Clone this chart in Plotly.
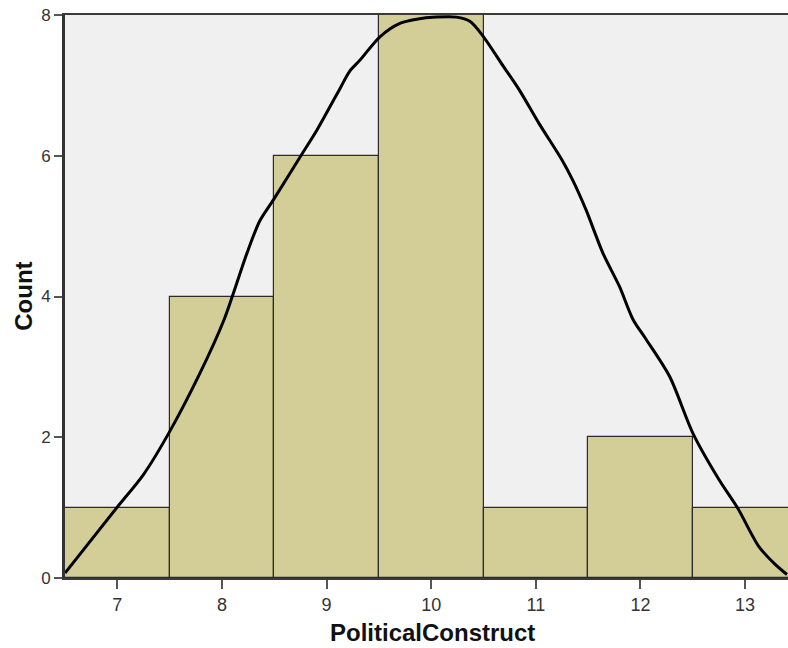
import plotly.graph_objects as go

# Histogram data
bin_centers = [7, 8, 9, 10, 11, 12, 13]
counts = [1, 4, 6, 8, 1, 2, 1]

# Overlay curve
curve_x = [6.5, 6.99, 7.25, 7.5, 7.79, 8.02, 8.11, 8.24, 8.36, 8.49, 8.75, 8.91, 9.13, 9.22,
           9.32, 9.51, 9.7, 9.86, 10.05, 10.24, 10.37, 10.5, 10.69, 10.84, 11.03, 11.25,
           11.35, 11.48, 11.64, 11.8, 11.93, 12.05, 12.28, 12.5, 12.75, 12.93, 13.13, 13.29, 13.4]
curve_y = [0.07, 0.99, 1.47, 2.08, 2.91, 3.67, 4.05, 4.62, 5.07, 5.37, 5.99, 6.37, 6.96, 7.2,
           7.36, 7.69, 7.88, 7.94, 7.97, 7.97, 7.91, 7.69, 7.27, 6.94, 6.46, 5.94,
           5.66, 5.23, 4.62, 4.14, 3.67, 3.4, 2.86, 2.06, 1.4, 0.99, 0.45, 0.19, 0.05]

x_ticks = [7, 8, 9, 10, 11, 12, 13]
y_ticks = [0, 2, 4, 6, 8]
x_title = "PoliticalConstruct"
y_title = "Count"

fig = go.Figure()
fig.add_trace(go.Bar(
    x=bin_centers, y=counts, width=1,
    marker=dict(color="#D3CE97", line=dict(color="#2b2b2b", width=1.2)),
    hoverinfo="x+y", showlegend=False,
))
fig.add_trace(go.Scatter(
    x=curve_x, y=curve_y, mode="lines",
    line=dict(color="black", width=3, shape="spline", smoothing=0.8),
    showlegend=False, cliponaxis=True,
))

fig.update_layout(
    width=788, height=648,
    margin=dict(l=65, r=0, t=15, b=70, autoexpand=False),
    paper_bgcolor="white", plot_bgcolor="#F0F0F0",
    bargap=0,
    font=dict(family="Arial, Liberation Sans, sans-serif", color="#333333"),
    annotations=[
        dict(text="<b>%s</b>" % x_title, xref="paper", yref="paper", x=0.508, y=-0.096,
             xanchor="center", yanchor="middle", showarrow=False,
             font=dict(size=24, color="#111111")),
        dict(text="<b>%s</b>" % y_title, xref="paper", yref="paper", x=-0.057, y=0.501,
             xanchor="center", yanchor="middle", showarrow=False, textangle=-90,
             font=dict(size=24, color="#111111")),
    ],
)
fig.update_xaxes(
    range=[6.5, 13.41], tickvals=x_ticks, ticks="outside", ticklen=9, tickcolor="#555555",
    tickwidth=1.5, tickfont=dict(size=18, color="#333333"),
    showline=True, linecolor="#3a3a3a", linewidth=2, mirror=True,
    showgrid=False, zeroline=False, automargin=False,
)
fig.update_yaxes(
    range=[0, 8], tickvals=y_ticks, ticks="outside", ticklen=8, tickcolor="#555555",
    tickwidth=1.5, tickfont=dict(size=17, color="#333333"),
    showline=True, linecolor="#333333", linewidth=3,
    showgrid=False, zeroline=False, automargin=False,
)

fig.write_html(
    "out.html",
    config={"displayModeBar": False},
    post_script="document.body.style.margin='0';document.body.style.overflow='hidden';",
)
